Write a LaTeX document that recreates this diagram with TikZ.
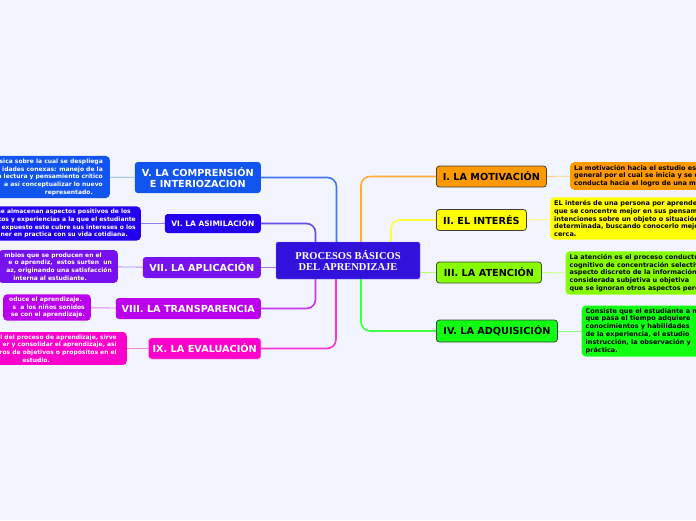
\documentclass[tikz,border=0pt]{standalone}
\usepackage{fontspec}
\newfontfamily\mapfont{DejaVu Sans}
\newfontfamily\hubfont{Liberation Serif}
\usepackage{xcolor}
\definecolor{paper}{HTML}{F2F5FF}
\definecolor{hubblue}{HTML}{3311DD}
\definecolor{motiv}{HTML}{FF9900}
\definecolor{inter}{HTML}{FFFF00}
\definecolor{atenc}{HTML}{88FF00}
\definecolor{adqui}{HTML}{11FF11}
\definecolor{compr}{HTML}{1155EE}
\definecolor{asimi}{HTML}{2200EE}
\definecolor{aplic}{HTML}{7711EE}
\definecolor{trans}{HTML}{BB00EE}
\definecolor{evalu}{HTML}{FF00CC}
\usetikzlibrary{positioning,backgrounds}

\begin{document}
\begin{tikzpicture}[x=1pt, y=-1pt,
  hub/.style={fill=hubblue, draw=hubblue!60!white, rounded corners=2pt,
              text=white, align=center, minimum width=144pt, minimum height=37pt,
              font=\hubfont\bfseries\fontsize{10.5}{11}\selectfont},
  topic/.style={rounded corners=3pt, minimum height=21pt, inner xsep=4pt,
                align=center, font=\mapfont\bfseries\fontsize{9.7}{11.3}\selectfont},
  rtopic/.style={topic, anchor=west, draw=black!75, line width=0.8pt, text=black},
  ltopic/.style={topic, anchor=east, text=white},
  note/.style={rounded corners=4pt, inner xsep=4pt, inner ysep=2.6pt,
               font=\mapfont\bfseries\fontsize{6.5}{7.9}\selectfont},
  rnote/.style={note, anchor=west, align=left, text=black},
  lnote/.style={note, anchor=east, align=right, text=white,
                font=\mapfont\bfseries\fontsize{6.0}{7.7}\selectfont},
  branch/.style={line width=1.6pt, rounded corners=9pt},
  twig/.style={line width=0.9pt}
]
  \useasboundingbox (0,0) rectangle (696,520);
  \clip (0,0) rectangle (696,520);

  % centre
  \node[hub] (hub) at (348,260.5) {PROCESOS BÁSICOS\\ DEL APRENDIZAJE};

  % right side
  \node[rtopic, fill=motiv, minimum width=110pt] (mot) at (436,176.5) {I. LA MOTIVACIÓN};
  \node[rtopic, fill=inter, minimum width=90pt] (int) at (436,220) {II. EL INTERÉS};
  \node[rtopic, fill=atenc, minimum width=105pt] (ate) at (436,272.5) {III. LA ATENCIÓN};
  \node[rtopic, fill=adqui, minimum width=121pt, minimum height=22pt] (adq) at (436,331) {IV. LA ADQUISICIÓN};

  \node[rnote, fill=motiv] (motnote) at (570,176)
    {La motivación hacia el estudio es el\\ general por el cual se inicia y se dirige\\ conducta hacia el logro de una meta};
  \node[rnote, fill=inter] (intnote) at (550,218.5)
    {EL interés de una persona por aprender permite\\ que se concentre mejor en sus pensamientos\\ intenciones sobre un objeto o situación\\ determinada, buscando conocerlo mejor y\\ cerca.};
  \node[rnote, fill=atenc] (atenote) at (565.5,273)
    {La atención es el proceso conductual\\ cognitivo de concentración selectiva\\ aspecto discreto de la información\\ considerada subjetiva u objetiva\\ que se ignoran otros aspectos perceptibles};
  \node[rnote, fill=adqui] (adqnote) at (581.5,331)
    {Consiste que el estudiante a medida\\ que pasa el tiempo adquiere\\ conocimientos y habilidades\\ de la experiencia, el estudio\\ instrucción, la observación y\\ práctica.};

  % left side
  \node[ltopic, fill=compr, minimum width=126pt, minimum height=31pt] (com) at (261,177.5)
    {V. LA COMPRENSIÓN\\ E INTERIOZACION};
  \node[ltopic, fill=asimi, minimum width=96pt, minimum height=19pt,
        font=\mapfont\bfseries\fontsize{7.5}{9}\selectfont] (asi) at (261,223.5)
    {VI. LA ASIMILACIÓN};
  \node[ltopic, fill=aplic, minimum width=118pt] (apl) at (261,267.5) {VII. LA APLICACIÓN};
  \node[ltopic, fill=trans, minimum width=145pt] (tra) at (261,308.5) {VIII. LA TRANSPARENCIA};
  \node[ltopic, fill=evalu, draw=evalu!40!white, minimum width=110pt] (eva) at (261,348.5) {IX. LA EVALUACIÓN};

  \node[lnote, fill=compr, inner xsep=7pt] (comnote) at (110,177)
    {ásica sobre la cual se despliega\\ idades conexas: manejo de la\hspace*{2pt}\\
     a lectura y pensamiento crítico\hspace*{1pt}\\ a así conceptualizar lo nuevo\hspace*{5pt}\\
     representado.\hspace*{10pt}};
  \node[lnote, fill=asimi, inner xsep=5pt] (asinote) at (141,223.5)
    {se almacenan aspectos positivos de los\hspace*{5pt}\\ tos y experiencias a la que el estudiante\\
     expuesto este cubre sus intereses o los\hspace*{5pt}\\ oner en practica con su vida cotidiana.\hspace*{8pt}};
  \node[lnote, fill=aplic, inner xsep=6pt] (aplnote) at (118,266.5)
    {mbios que se producen en el\hspace*{10pt}\\ e o aprendiz,\ \ estos surten\ \ un\hspace*{2pt}\\
     az, originando una satisfacción\\ interna al estudiante.\hspace*{25pt}};
  \node[lnote, fill=trans, inner xsep=6pt] (tranote) at (91,307.5)
    {oduce el aprendizaje.\hspace*{3pt}\\ s\ \ a los niños sonidos\hspace*{4pt}\\ se con el aprendizaje.};
  \node[lnote, fill=evalu, inner xsep=10pt] (evanote) at (127,348.5)
    {al del proceso de aprendizaje, sirve\\ er y consolidar el aprendizaje, así\hspace*{4pt}\\
     ros de objetivos o propósitos en el\hspace*{4pt}\\ estudio.\hspace*{67pt}};

  \begin{scope}[on background layer]
    \fill[paper] (0,0) rectangle (696,520);
    % branches
    \draw[branch, motiv!80!white] ([xshift=13]hub.north) |- (mot.west);
    \draw[branch, inter!80!white] ([xshift=43]hub.north) |- (int.west);
    \draw[branch, atenc!60!white] (hub.east |- ate.west) -- (ate.west);
    \draw[branch, adqui!80!white] ([xshift=13]hub.south) |- (adq.west);
    \draw[branch, compr!80!white] ([xshift=-11.5]hub.north) |- (com.east);
    \draw[branch, asimi!70!white] ([xshift=-32.5]hub.north) |- (asi.east);
    \draw[branch, aplic!60!white] (hub.west |- apl.east) -- (apl.east);
    \draw[branch, trans!80!white] ([xshift=-32.5]hub.south) |- (tra.east);
    \draw[branch, evalu!80!white] ([xshift=-12]hub.south) |- (eva.east);
    % leaves
    \draw[twig, motiv!50!white] (mot) -- (motnote);
    \draw[twig, inter!50!white] (int) -- (intnote);
    \draw[twig, atenc!50!white] (ate) -- (atenote);
    \draw[twig, adqui!50!white] (adq) -- (adqnote);
    \draw[twig, compr!50!white] (com) -- (comnote);
    \draw[twig, asimi!50!white] (asi) -- (asinote);
    \draw[twig, aplic!50!white] (apl) -- (aplnote);
    \draw[twig, trans!50!white] (tra) -- (tranote);
    \draw[twig, evalu!50!white] (eva) -- (evanote);
  \end{scope}
\end{tikzpicture}
\end{document}
